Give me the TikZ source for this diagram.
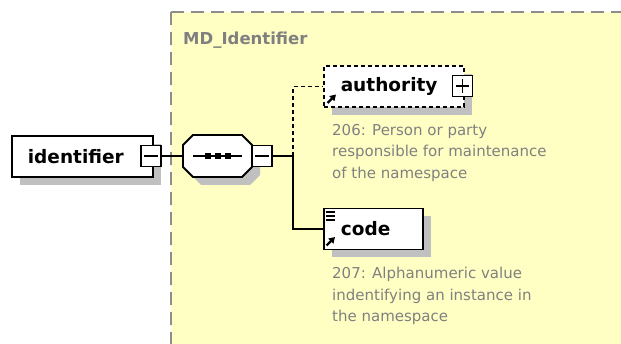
\documentclass[tikz,border=0pt]{standalone}
\usepackage{fontspec}
\setmainfont{DejaVu Sans}
\usetikzlibrary{shadows,arrows.meta}

\definecolor{areafill}{HTML}{FFFFC4}
\definecolor{docgray}{HTML}{808080}
\definecolor{shadowgray}{HTML}{C0C0C0}

\tikzset{
  elem/.style={draw, fill=white, line width=1.8pt, minimum height=41pt,
    inner ysep=0pt, align=left, anchor=west,
    font=\bfseries\fontsize{18.5}{22}\selectfont,
    drop shadow={shadow xshift=8pt, shadow yshift=-8pt, fill=shadowgray, opacity=1}},
  expander/.style={draw, fill=white, line width=1.3pt, minimum width=20pt,
    minimum height=21pt, inner sep=0pt},
  doc/.style={anchor=north west, inner sep=0pt, align=left, text=docgray,
    font=\fontsize{15}{21.5}\selectfont},
  link/.style={line width=1.3pt},
  dashlink/.style={dash pattern=on 4pt off 3pt},
  refarrow/.style={-{Triangle[length=6pt,width=7pt]}, line width=2.2pt},
  seqshadow/.style={fill=shadowgray},
  seqbody/.style={draw, fill=white, line width=1.8pt},
}

\begin{document}
\begin{tikzpicture}[x=1pt, y=-1pt]
  \useasboundingbox (0,0) rectangle (621,344);
  % complex type area
  \begin{scope}
    \clip (0,0) rectangle (621,344);
    \fill[areafill] (171,12) rectangle (640,360);
    \draw[docgray!90, line width=1.3pt, dash pattern=on 13pt off 7pt] (171,12) -- (640,12);
    \draw[docgray!90, line width=1.3pt, dash pattern=on 13pt off 7pt] (171,12) -- (171,360);
  \end{scope}
  \node[font=\bfseries\fontsize{16.5}{20}\selectfont, text=docgray,
    anchor=base west, inner sep=0pt] (area) at (183,45) {MD\_Identifier};

  % root element
  \node[elem, text width=109pt, inner xsep=16pt] (identifier) at (11,156.5) {identifier};
  \node[expander] (idminus) at (151,156) {};
  \draw[line width=1.3pt] ([xshift=4pt]idminus.west) -- ([xshift=-4pt]idminus.east);

  % sequence compositor
  \node[minimum width=69pt, minimum height=42pt, inner sep=0pt] (seq) at (217.5,156) {};
  \foreach \sx/\sy/\st in {8/8/seqshadow, 0/0/seqbody}
    \path[\st] ([shift={(\sx-34.5,\sy-11)}]seq.center) -- ([shift={(\sx-24.5,\sy-21)}]seq.center)
      -- ([shift={(\sx+24.5,\sy-21)}]seq.center) -- ([shift={(\sx+34.5,\sy-11)}]seq.center)
      -- ([shift={(\sx+34.5,\sy+11)}]seq.center) -- ([shift={(\sx+24.5,\sy+21)}]seq.center)
      -- ([shift={(\sx-24.5,\sy+21)}]seq.center) -- ([shift={(\sx-34.5,\sy+11)}]seq.center) -- cycle;
  \draw[line width=1.3pt] ([xshift=-24.5pt]seq.center) -- ([xshift=24.5pt]seq.center);
  \foreach \dx in {-10,0,10}
    \fill ([shift={(\dx-3,-3)}]seq.center) rectangle ([shift={(\dx+3,3)}]seq.center);
  \node[expander] (seqminus) at (262,156) {};
  \draw[line width=1.3pt] ([xshift=4pt]seqminus.west) -- ([xshift=-4pt]seqminus.east);
  \coordinate (fork) at (293,156);

  % child elements
  \node[elem, dashlink, line width=1.5pt, text width=106pt, inner xsep=17pt]
    (authority) at (323,86.5) {authority};
  \node[expander] (authplus) at (462.5,86) {};
  \draw[line width=1.3pt] ([xshift=4pt]authplus.west) -- ([xshift=-4pt]authplus.east);
  \draw[line width=1.3pt] ([yshift=-4pt]authplus.north) -- ([yshift=4pt]authplus.south);
  \draw[refarrow] ([shift={(4.5,16.5)}]authority.west) -- ([shift={(13,8)}]authority.west);

  \node[elem, text width=65pt, inner xsep=17pt] (code) at (323,229) {code};
  \foreach \dy in {-17,-13,-9}
    \draw[line width=1.2pt] ([shift={(3,\dy)}]code.west) -- ([shift={(12,\dy)}]code.west);
  \draw[refarrow] ([shift={(3.5,16.5)}]code.west) -- ([shift={(12,8)}]code.west);

  % connectors
  \draw[link] (idminus.east) -- (seq.west);
  \draw[link] (seqminus.east) -- (fork);
  \draw[link, dashlink] (fork) |- (authority.west);
  \draw[link] (fork) |- (code.west);

  % annotations
  \node[doc] (authdoc) at (332,124) {206: Person or party\\responsible for maintenance\\of the namespace};
  \node[doc] (codedoc) at (332,267) {207: Alphanumeric value\\indentifying an instance in\\the namespace};
\end{tikzpicture}
\end{document}
